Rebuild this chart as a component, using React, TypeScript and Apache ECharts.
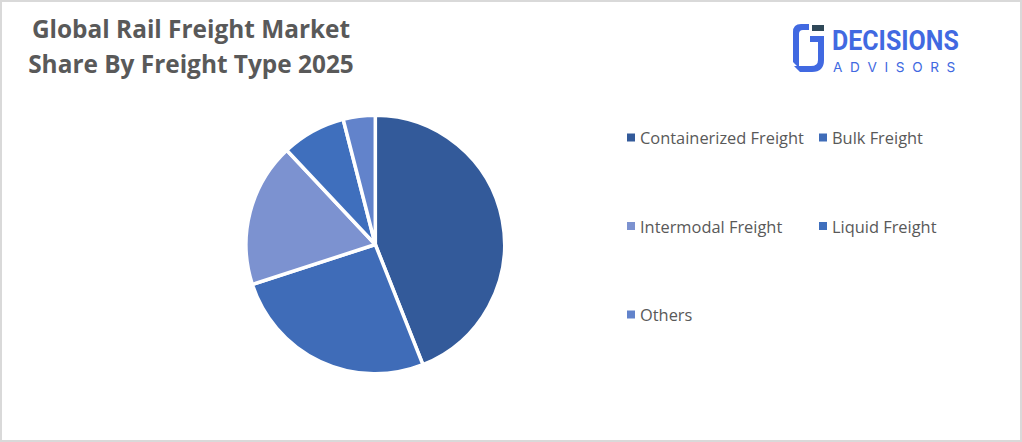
import { useEffect, useRef } from "react";
import * as echarts from "echarts";

const categories = ["Containerized Freight", "Bulk Freight", "Intermodal Freight", "Liquid Freight", "Others"];
const shares = [44, 26, 18, 8, 4];
const colors = ["#335a9a", "#3f6cb8", "#7c92d0", "#3f6fbd", "#6283cb"];
const leftLegend = ["Containerized Freight", "Intermodal Freight", "Others"];
const rightLegend = ["Bulk Freight", "Liquid Freight"];

echarts.graphic.registerShape(
  "logoLeft",
  echarts.graphic.extendPath("M809 24 L801 24 Q793 24 793 32 L793 62 L799 68 L799 34 Q799 30 803 30 L809 30 Z", {})
);
echarts.graphic.registerShape(
  "logoRight",
  echarts.graphic.extendPath("M810 36 L824 36 L824 60 Q824 72 812 72 L800 72 L794 66 L811 66 Q818 66 818 60 L818 42 L810 42 Z", {})
);

export default function App() {
  const chartRef = useRef<HTMLDivElement>(null);

  useEffect(() => {
    document.body.style.margin = "0";
    if (!chartRef.current) return;
    const chart = echarts.init(chartRef.current, null, { renderer: "svg" });

    const legendBase = {
      orient: "vertical" as const,
      top: 122.5,
      itemWidth: 8,
      itemHeight: 8,
      itemGap: 72.5,
      icon: "rect",
      itemStyle: { borderWidth: 0 },
      textStyle: { fontFamily: "Open Sans", fontSize: 16.4, color: "#595959" },
    };

    chart.setOption({
      animation: false,
      backgroundColor: "#ffffff",
      color: colors,
      title: {
        text: "Global Rail Freight Market\nShare By Freight Type 2025",
        left: 184,
        top: 4,
        textAlign: "center",
        textStyle: {
          fontFamily: "Open Sans",
          fontSize: 24.4,
          fontWeight: 700,
          color: "#595959",
          lineHeight: 35,
        },
      },
      legend: [
        { ...legendBase, left: 620, data: leftLegend },
        { ...legendBase, left: 812, data: rightLegend },
      ],
      series: [
        {
          type: "pie",
          center: [373.3, 242.5],
          radius: [0, 129.3],
          startAngle: 90,
          clockwise: true,
          label: { show: false },
          labelLine: { show: false },
          itemStyle: { borderColor: "#ffffff", borderWidth: 3.5 },
          data: categories.map((name, i) => ({ name, value: shares[i] })),
        },
      ],
      graphic: [
        { type: "logoLeft", x: -2, y: -2, style: { fill: "#4169e1" } },
        { type: "logoRight", x: -2, y: -2, style: { fill: "#4169e1" } },
        { type: "rect", shape: { x: 810, y: 23, width: 12, height: 6 }, style: { fill: "#2f4858" } },
        {
          type: "text",
          x: 830,
          y: 25,
          scaleX: 0.925,
          style: { text: "DECISIONS", fontFamily: "Roboto", fontWeight: 700, fontSize: 27, fill: "#4169e1" },
        },
        {
          type: "text",
          x: 831,
          y: 58,
          style: { text: "A\u00a0\u00a0D\u00a0\u00a0V\u00a0\u00a0I\u00a0\u00a0S\u00a0\u00a0O\u00a0\u00a0R\u00a0\u00a0S", fontFamily: "Inter", fontSize: 13.6, fill: "#4169e1" },
        },
      ],
    });

    return () => chart.dispose();
  }, []);

  return (
    <div
      ref={chartRef}
      style={{ width: 1022, height: 442, boxSizing: "border-box", border: "2px solid #d9d9d9" }}
    />
  );
}
